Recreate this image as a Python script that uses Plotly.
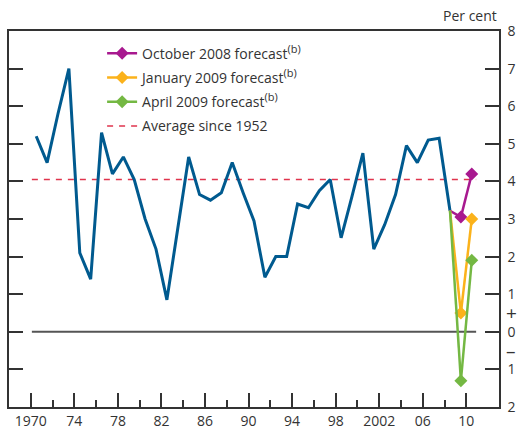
import plotly.graph_objects as go

# ---- data ----
years = list(range(1970, 2009))
growth = [5.2, 4.5, 5.8, 7.0, 2.1, 1.4, 5.3, 4.2, 4.65, 4.05,
          3.0, 2.2, 0.85, 2.7, 4.65, 3.65, 3.5, 3.7, 4.5, 3.7,
          2.95, 1.45, 2.0, 2.0, 3.4, 3.3, 3.75, 4.05, 2.5, 3.6,
          4.75, 2.2, 2.85, 3.65, 4.95, 4.5, 5.1, 5.15, 3.22]
fc_years = [2009, 2010]
oct08 = [3.05, 4.2]
jan09 = [0.5, 3.0]
apr09 = [-1.3, 1.9]
average = 4.05

SUP = "<sup><span style='font-size:11px'>(b)</span></sup>"
series_names = ["October 2008 forecast" + SUP,
                "January 2009 forecast" + SUP,
                "April 2009 forecast" + SUP]
avg_name = "Average since 1952"

xtick_vals = [1970, 1974, 1978, 1982, 1986, 1990, 1994, 1998, 2002, 2006, 2010]
xtick_text = ["1970", "74", "78", "82", "86", "90", "94", "98", "2002", "06", "10"]
xminor_vals = [1972, 1976, 1980, 1984, 1988, 1992, 1996, 2000, 2004, 2008]
ytick_vals = [-2, -1, 0, 1, 2, 3, 4, 5, 6, 7, 8]
ytick_text = ["2", "1", "0", "1", "2", "3", "4", "5", "6", "7", "8"]

# ---- style ----
BLUE = "#005a8f"
MAG = "#a8198f"
ORA = "#fbb21b"
GRN = "#74b843"
RED = "#e0344d"
AX = "#333333"
FONT = "Open Sans"
OFF = 0.5  # points plotted mid-year
line_start, line_end = 1970.1, 2010.9

fig = go.Figure()

# zero line
fig.add_trace(go.Scatter(x=[line_start, line_end], y=[0, 0], mode="lines",
                         line=dict(color="#555555", width=2),
                         showlegend=False, hoverinfo="skip"))

# average line
fig.add_trace(go.Scatter(x=[line_start, line_end], y=[average, average], mode="lines",
                         line=dict(color=RED, width=1.5, dash="6px,6px"),
                         name=avg_name, legendgroup="avg", legendrank=4,
                         hoverinfo="skip"))

# history
fig.add_trace(go.Scatter(x=[y + OFF for y in years], y=growth, mode="lines",
                         line=dict(color=BLUE, width=3), showlegend=False))

last_x, last_y = years[-1] + OFF, growth[-1]
for i, (vals, col, nm) in enumerate(zip([oct08, jan09, apr09], [MAG, ORA, GRN], series_names)):
    fx = [y + OFF for y in fc_years]
    fig.add_trace(go.Scatter(x=[last_x, fx[0]], y=[last_y, vals[0]], mode="lines",
                             line=dict(color=col, width=2.5), showlegend=False,
                             legendgroup=nm))
    fig.add_trace(go.Scatter(x=fx, y=vals, mode="lines+markers",
                             line=dict(color=col, width=2.5),
                             marker=dict(symbol="diamond", size=10, color=col),
                             name=nm, legendgroup=nm, legendrank=i + 1))

fig.update_layout(
    width=520, height=430,
    margin=dict(l=9, r=21, t=31, b=23, autoexpand=False),
    paper_bgcolor="white", plot_bgcolor="white",
    font=dict(family=FONT, size=14, color=AX),
    legend=dict(x=0.19, y=0.982, xanchor="left", yanchor="top",
                bgcolor="rgba(0,0,0,0)", font=dict(size=14, color=AX),
                traceorder="grouped", tracegroupgap=3),
    xaxis=dict(range=[1968, 2013], tickmode="array", tickvals=xtick_vals,
               ticktext=xtick_text, ticks="inside", ticklen=14, tickwidth=1.5,
               tickcolor=AX, showline=True, linecolor=AX, linewidth=1.5,
               mirror=True, showgrid=False, zeroline=False, automargin=False,
               tickfont=dict(size=14, color=AX),
               minor=dict(tickmode="array", tickvals=xminor_vals, ticks="inside",
                          ticklen=7, tickwidth=1.5, tickcolor=AX, showgrid=False)),
    yaxis=dict(range=[-2, 8], side="right", tickmode="array", tickvals=ytick_vals,
               ticktext=ytick_text, ticks="inside", ticklen=14, tickwidth=1.5,
               tickcolor=AX, showline=True, linecolor=AX, linewidth=1.5,
               mirror="ticks", showgrid=False, zeroline=False, automargin=False,
               ticklabelstandoff=4, tickfont=dict(size=14, color=AX)),
    annotations=[
        dict(text="Per cent", xref="paper", yref="paper", x=1.0, y=1.04,
             xanchor="right", yanchor="middle", showarrow=False,
             font=dict(size=14, color=AX)),
        dict(text="+", xref="paper", yref="y", x=1.0245, y=0.5,
             xanchor="center", yanchor="middle", showarrow=False,
             font=dict(size=19, color=AX)),
        dict(text="–", xref="paper", yref="y", x=1.0245, y=-0.5,
             xanchor="center", yanchor="middle", showarrow=False,
             font=dict(size=19, color=AX)),
    ],
)

fig.write_html("out.html", config={"displayModeBar": False},
               post_script="document.body.style.margin='0';")
